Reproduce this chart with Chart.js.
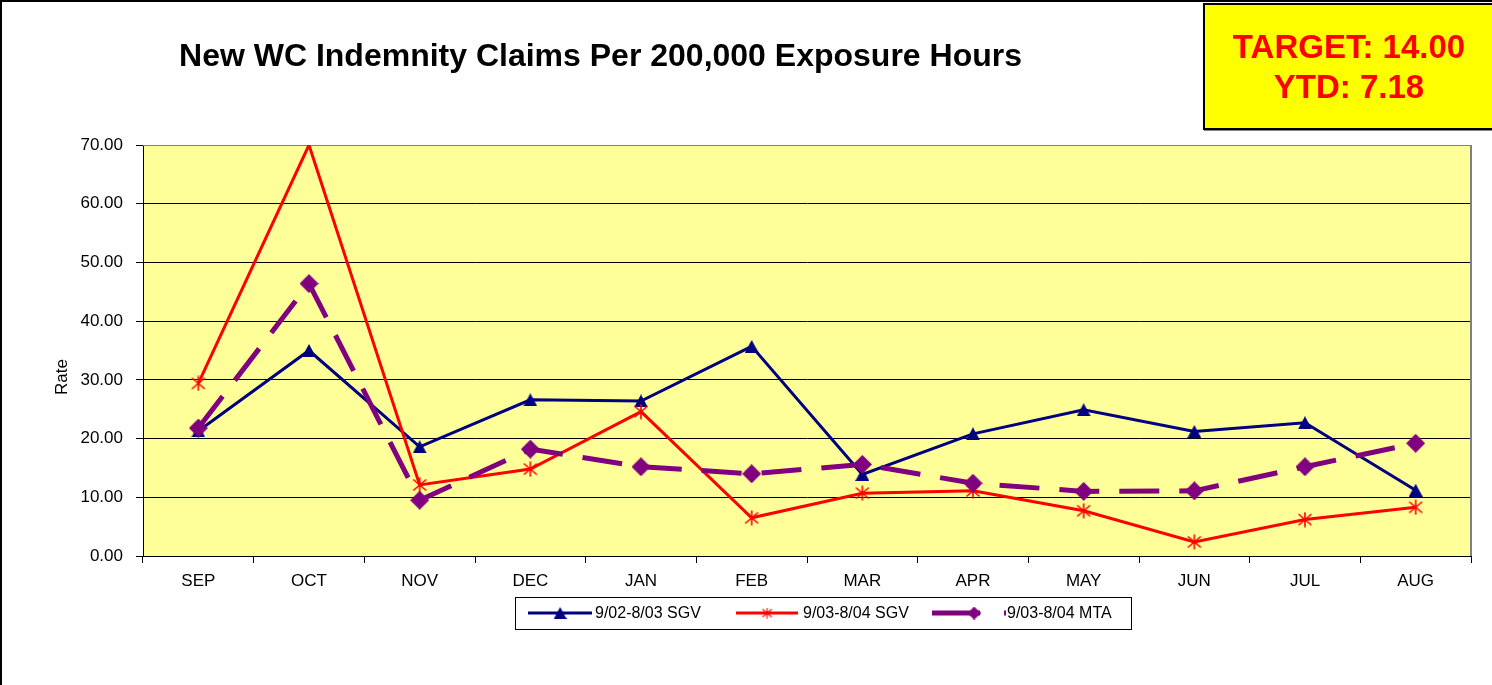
<!DOCTYPE html>
<html>
<head>
<meta charset="utf-8">
<title>New WC Indemnity Claims</title>
<script src="https://cdn.jsdelivr.net/npm/chart.js@4.4.1/dist/chart.umd.min.js"></script>
<style>
html, body { margin: 0; padding: 0; background: #fff; }
body { width: 1492px; height: 685px; position: relative; overflow: hidden; font-family: "Liberation Sans", Arial, sans-serif; }
#frame { position: absolute; left: 0; top: 0; width: 1492px; height: 685px; box-sizing: border-box; border-left: 2px solid #000; border-top: 2px solid #000; }
#chart { position: absolute; left: 0; top: 0; }
#title { position: absolute; left: 0; top: 39px; width: 1201px; text-align: center; font-weight: bold; font-size: 32px; line-height: 32px; color: #000; white-space: nowrap; }
#target { position: absolute; left: 1203px; top: 3px; width: 300px; height: 127px; box-sizing: border-box; background: #ffff00; border: 2px solid #000; box-shadow: 1px 1px 0 #808080; }
#targettext { position: absolute; left: 1203px; top: 27px; width: 292px; text-align: center; font-weight: bold; font-size: 33px; line-height: 40px; color: #ff0000; white-space: nowrap; }
</style>
</head>
<body>
<div id="frame"></div>
<canvas id="chart" width="1492" height="685"></canvas>
<div id="title">New WC Indemnity Claims Per 200,000 Exposure Hours</div>
<div id="target"></div>
<div id="targettext">TARGET: 14.00<br>YTD: 7.18</div>

<script>
// months and rates
var months = ['SEP','OCT','NOV','DEC','JAN','FEB','MAR','APR','MAY','JUN','JUL','AUG'];
var seriesNames = ['9/02-8/03 SGV', '9/03-8/04 SGV', '9/03-8/04 MTA'];
var sgv0203 = [21.3, 35.0, 18.6, 26.6, 26.4, 35.7, 13.9, 20.8, 24.9, 21.2, 22.7, 11.2];
var sgv0304 = [29.4, 70.0, 12.1, 14.8, 24.6, 6.5, 10.7, 11.1, 7.7, 2.4, 6.2, 8.3];
var mta0304 = [21.8, 46.4, 9.5, 18.2, 15.2, 14.0, 15.6, 12.4, 11.0, 11.1, 15.2, 19.2];
var yTicks = [0, 10, 20, 30, 40, 50, 60, 70];

var NAVY = '#000080', RED = '#ff0000', PURPLE = '#800080';
var FONT = '"Liberation Sans", Arial, sans-serif';

// excel style markers as small canvases
function triangle(s)
{
	var c = document.createElement('canvas');
	c.width = 14 * s; c.height = 13 * s;
	var g = c.getContext('2d');
	g.scale(s, s);
	g.fillStyle = NAVY;
	g.beginPath();
	g.moveTo(7, 0); g.lineTo(14, 13); g.lineTo(0, 13);
	g.closePath();
	g.fill();
	return c;
}

function asterisk(s)
{
	var c = document.createElement('canvas');
	c.width = 16 * s; c.height = 16 * s;
	var g = c.getContext('2d');
	g.scale(s, s);
	g.strokeStyle = RED;
	g.lineWidth = 1.6;
	g.beginPath();
	g.moveTo(8, 0.5); g.lineTo(8, 15.5);
	g.moveTo(1.5, 2.5); g.lineTo(14.5, 13.5);
	g.moveTo(14.5, 2.5); g.lineTo(1.5, 13.5);
	g.stroke();
	return c;
}

function diamond(s)
{
	var c = document.createElement('canvas');
	c.width = 19 * s; c.height = 19 * s;
	var g = c.getContext('2d');
	g.scale(s, s);
	g.fillStyle = PURPLE;
	g.beginPath();
	g.moveTo(9.5, 0); g.lineTo(19, 9.5); g.lineTo(9.5, 19); g.lineTo(0, 9.5);
	g.closePath();
	g.fill();
	return c;
}

var mTri = triangle(1), mAst = asterisk(1), mDia = diamond(1);
// legend markers are a bit smaller
var lTri = triangle(0.95), lAst = asterisk(0.7), lDia = diamond(0.7);

var plotBg = {
	id: 'plotBg',
	beforeDraw: function(chart) {
		var a = chart.chartArea, ctx = chart.ctx;
		ctx.save();
		ctx.fillStyle = '#ffff99';
		ctx.fillRect(a.left, a.top, a.right - a.left, a.bottom - a.top);
		ctx.restore();
	},
	beforeDatasetsDraw: function(chart) {
		var a = chart.chartArea, ctx = chart.ctx;
		ctx.save();
		ctx.strokeStyle = '#808080';
		ctx.lineWidth = 2;
		ctx.beginPath();
		ctx.moveTo(a.right, a.top);
		ctx.lineTo(a.right, a.bottom);
		ctx.stroke();
		ctx.lineWidth = 1;
		ctx.beginPath();
		ctx.moveTo(a.left, a.top + 0.5);
		ctx.lineTo(a.right, a.top + 0.5);
		ctx.stroke();
		ctx.restore();
	}
};

// legend box and "Rate" label
var extras = {
	id: 'extras',
	afterDraw: function(chart) {
		var ctx = chart.ctx;
		ctx.save();
		ctx.fillStyle = '#000';
		ctx.font = '17px ' + FONT;
		ctx.translate(62, 377);
		ctx.rotate(-Math.PI / 2);
		ctx.textAlign = 'center';
		ctx.textBaseline = 'middle';
		ctx.fillText('Rate', 0, 0);
		ctx.restore();

		ctx.save();
		ctx.strokeStyle = '#000';
		ctx.lineWidth = 1;
		ctx.strokeRect(515.5, 597.5, 616, 32);
		var y = 613;
		var items = [
			{x1: 528, x2: 592, mx: 560, tx: 595},
			{x1: 736, x2: 798, mx: 767, tx: 803},
			{x1: 932, x2: 980, mx: 974, tx: 1007}
		];
		var marks = [lTri, lAst, lDia];
		chart.data.datasets.forEach(function(ds, i) {
			var it = items[i];
			ctx.strokeStyle = ds.borderColor;
			ctx.lineWidth = ds.borderWidth;
			ctx.beginPath();
			ctx.moveTo(it.x1, y);
			ctx.lineTo(it.x2, y);
			if (i == 2) {
				ctx.moveTo(1004, y);
				ctx.lineTo(1006, y);
			}
			ctx.stroke();
			var m = marks[i];
			ctx.drawImage(m, it.mx - m.width / 2, y - m.height / 2);
			ctx.fillStyle = '#000';
			ctx.font = '16px ' + FONT;
			ctx.textAlign = 'left';
			ctx.textBaseline = 'middle';
			ctx.fillText(ds.label, it.tx, y + 1);
		});
		ctx.restore();
	}
};

Chart.defaults.font.family = FONT;
Chart.defaults.color = '#000';

var chart = new Chart(document.getElementById('chart').getContext('2d'), {
	type: 'line',
	data: {
		labels: months,
		datasets: [{
			label: seriesNames[0],
			data: sgv0203,
			borderColor: NAVY,
			backgroundColor: NAVY,
			borderWidth: 3,
			pointStyle: mTri,
			pointRadius: 7,
			order: 3
		}, {
			label: seriesNames[1],
			data: sgv0304,
			borderColor: RED,
			backgroundColor: RED,
			borderWidth: 3,
			pointStyle: mAst,
			// marker on the top edge is not shown
			pointRadius: function(c) { return c.raw >= 70 ? 0 : 7; },
			order: 2
		}, {
			label: seriesNames[2],
			data: mta0304,
			borderColor: PURPLE,
			backgroundColor: PURPLE,
			borderWidth: 5,
			borderDash: [40, 20],
			pointStyle: mDia,
			pointRadius: 9,
			order: 1
		}]
	},
	options: {
		responsive: false,
		animation: false,
		events: [],
		layout: { padding: { top: 145, right: 21, left: 0, bottom: 0 } },
		elements: { line: { tension: 0, fill: false } },
		plugins: {
			legend: { display: false },
			tooltip: { enabled: false },
			title: { display: false }
		},
		scales: {
			x: {
				offset: true,
				grid: { offset: true, drawOnChartArea: false, drawTicks: true, tickLength: 7, tickColor: '#000', color: '#000' },
				border: { color: '#000', width: 1 },
				ticks: { font: { size: 17 }, color: '#000', padding: 8, maxRotation: 0, autoSkip: false },
				afterFit: function(s) { s.height = 129; }
			},
			y: {
				min: 0,
				max: 70,
				afterBuildTicks: function(s) { s.ticks = yTicks.map(function(v) { return {value: v}; }); },
				grid: { color: '#000', lineWidth: 1, drawTicks: true, tickLength: 7, tickColor: '#000' },
				border: { color: '#000', width: 1 },
				ticks: { font: { size: 17 }, color: '#000', padding: 13, callback: function(v) { return v.toFixed(2); } },
				afterFit: function(s) { s.width = 143; }
			}
		}
	},
	plugins: [plotBg, extras]
});
</script>
</body>
</html>
